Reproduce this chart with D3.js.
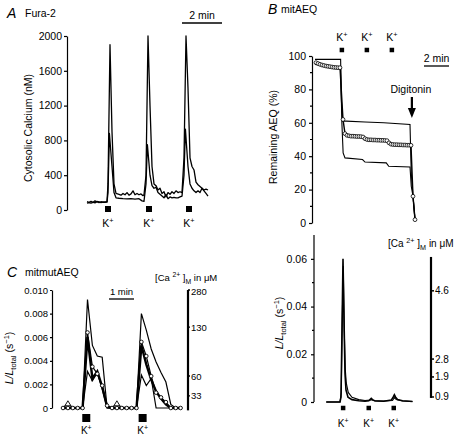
<!DOCTYPE html>
<html><head><meta charset="utf-8">
<script src="https://cdn.jsdelivr.net/npm/d3@7"></script>
<style>
body{margin:0;background:#fff}
text{font-family:"Liberation Sans",Arial,Helvetica,sans-serif;fill:#000}
.axis path,.axis line{stroke:#000;stroke-width:1.2}
</style>
</head><body>
<svg id="c" width="459" height="437"></svg>
<script>
// ---------- Panel A: Fura-2 (time in min, [Ca2+] in nM) ----------
const aTall = [[0,95],[0.1,88],[0.2,100],[0.3,85],[0.4,105],[0.5,90],[0.6,95],[0.7,85],[0.8,92],[0.9,88],[1.0,95],[1.05,300],[1.15,1900],[1.25,900],[1.35,300],[1.45,190],[1.6,180],[1.7,170],[1.8,190],[1.9,175],[2.0,200],[2.1,170],[2.2,185],[2.3,220],[2.4,175],[2.5,190],[2.6,175],[2.7,185],[2.8,165],[2.85,175],[2.95,400],[3.05,2000],[3.15,1200],[3.25,500],[3.35,300],[3.45,280],[3.55,230],[3.65,250],[3.75,190],[3.85,210],[3.95,150],[4.05,200],[4.15,180],[4.25,210],[4.35,190],[4.45,220],[4.55,200],[4.65,210],[4.75,200],[4.85,600],[4.95,2000],[5.05,1400],[5.15,600],[5.25,500],[5.35,460],[5.45,320],[5.55,290],[5.65,270],[5.75,250],[5.85,220],[5.95,190],[6.05,160]];
const aShort = [[0,80],[0.1,85],[0.2,78],[0.3,90],[0.4,82],[0.5,100],[0.6,85],[0.7,95],[0.8,88],[0.9,92],[1.0,90],[1.05,200],[1.12,880],[1.25,500],[1.35,200],[1.45,140],[1.6,135],[1.8,130],[2.0,128],[2.2,130],[2.4,125],[2.6,130],[2.75,105],[2.85,100],[2.95,300],[3.02,750],[3.15,400],[3.25,280],[3.35,250],[3.45,260],[3.55,200],[3.65,180],[3.75,160],[3.85,140],[3.95,180],[4.05,130],[4.15,150],[4.25,140],[4.35,145],[4.45,140],[4.55,140],[4.65,150],[4.75,160],[4.85,400],[4.92,930],[5.05,500],[5.15,300],[5.25,250],[5.35,220],[5.45,200],[5.55,220],[5.65,200],[5.75,250],[5.85,230],[5.95,240],[6.05,230]];
const aTicks = [0,400,800,1200,1600,2000];
const aStim = [1.05,3.1,5.1];

// ---------- Panel B top: mitAEQ remaining (%) ----------
const bUpper = [[0,98],[2.05,98],[2.1,75],[2.2,61],[2.5,61],[4.0,60.5],[5.5,60],[7.6,59],[7.7,30],[7.84,16],[8.0,2]];
const bLower = [[0,95],[2.05,93],[2.15,60],[2.25,42],[2.4,39],[3.8,38],[4.0,36.5],[5.7,36],[5.9,34],[7.6,33.5],[7.7,22],[7.84,16],[8.0,2]];
const bCirc = [[0.08,96],[0.24,95.5],[0.4,95],[0.56,94.6],[0.72,94.3],[0.88,94],[1.04,93.8],[1.2,93.6],[1.36,93.4],[1.52,93.2],[1.68,93.1],[1.84,93],[2.0,93],[2.24,62],[2.4,53.5],[2.56,52.5],[2.72,52.2],[2.88,52],[3.04,52],[3.2,51.9],[3.36,51.8],[3.52,51.8],[3.68,51.7],[3.84,51.5],[4.0,50.5],[4.16,50],[4.32,49.8],[4.48,49.8],[4.64,49.7],[4.8,49.7],[4.96,49.6],[5.12,49.6],[5.28,49.5],[5.44,49.5],[5.6,49.4],[5.76,49.3],[5.92,48],[6.08,47.2],[6.24,47],[6.4,46.9],[6.56,46.9],[6.72,46.8],[6.88,46.8],[7.04,46.7],[7.2,46.7],[7.36,46.6],[7.52,46.6],[7.68,46.5],[7.84,16],[8.0,2]];
const bTicks = [0,20,40,60,80,100];
const bMinor = [10,30,50,70,90];
const bStimTop = [2.15,4.15,6.15];
const digitoninT = 7.75;

// ---------- Panel B bottom: mitAEQ L/Ltotal ----------
const bbTrace1 = [[0.9,0],[2.0,0],[2.08,0.002],[2.16,0.03],[2.24,0.06],[2.32,0.035],[2.4,0.012],[2.48,0.005],[2.64,0.002],[2.96,0.001],[3.5,0.0005],[4.0,0.0003],[4.3,0.0005],[4.4,0.001],[4.5,0.0015],[4.6,0.001],[4.8,0.0004],[5.5,0.0003],[6.1,0.0008],[6.25,0.002],[6.35,0.003],[6.45,0.002],[6.6,0.001],[7.0,0.0005],[7.8,0.0002]];
const bbTrace2 = [[0.9,0],[2.0,0],[2.1,0.004],[2.18,0.035],[2.26,0.057],[2.34,0.03],[2.42,0.014],[2.5,0.008],[2.66,0.004],[2.96,0.002],[3.5,0.001],[4.0,0.0006],[4.4,0.0008],[4.5,0.001],[4.7,0.0006],[5.5,0.0004],[6.2,0.0006],[6.35,0.0018],[6.5,0.001],[7.0,0.0004],[7.8,0.0002]];
const bbTicks = [0,0.02,0.04,0.06];
const bbMinor = [0.01,0.03,0.05];
const bbCaLabels = ["0.9","1.9","2.8","4.6"];
const bbCaPos = [0.0021,0.0105,0.018,0.0466];
const bbCaRange = [0.0017,0.0608];
const bStimBot = [2.25,4.3,6.3];

// ---------- Panel C: mitmutAEQ (samples every 0.2 min) ----------
const cTime = [0,0.2,0.4,0.6,0.8,1.0,1.2,1.4,1.6,1.8,2.0,2.2,2.4,2.6,2.8,3.0,3.2,3.4,3.6,3.8,4.0,4.2,4.4,4.6,4.8];
const cTall  = [0,0,0,0,0,0.0092,0.0053,0.0044,0.0043,0,0,0,0,0,0,0,0.0080,0.0066,0.0050,0.0039,0.0030,0.0022,0.0003,0,0];
const cCirc  = [0,0,0,0,0,0.0064,0.0035,0.0029,0.0019,0.0002,0,0,0,0,0,0,0.0056,0.0044,0.0027,0.0013,0.0009,0.0005,0,0,0];
const cThick = [0,0,0,0,0,0.0060,0.0025,0.0031,0.0018,0.0001,0,0,0,0,0,0,0.0053,0.0037,0.0024,0.0014,0.0008,0.0003,0,0,0];
const cTri   = [0,0.0004,0,0,0,0.0031,0.0023,0.0030,0.0016,0,0,0.0004,0,0,0,0,0.0028,0.0019,0.0025,0,0,0,0,0,0];
const cTriIdx = [1,11];
const cTicks = [0,0.002,0.004,0.006,0.008,0.010];
const cCaLabels = ["33","60","130","280"];
const cCaPos = [0.00102,0.00271,0.00686,0.010];
const cCaRange = [-0.0002,0.010];
const cStim = [0.95,3.25];

const svg = d3.select("#c");
const F = '"Liberation Sans",Arial,Helvetica,sans-serif';

function stimMarks(g, xs, times, y, size, labelY, fs){
  g.selectAll(null).data(times).enter().append("rect")
    .attr("x", d=>xs(d)-size/2).attr("y", y-size/2).attr("width", size).attr("height", size).attr("fill","#000");
  times.forEach(t=>{
    const tx = g.append("text").attr("x", xs(t)).attr("y", labelY).attr("text-anchor","middle").style("font-size",fs+"px");
    tx.append("tspan").text("K");
    tx.append("tspan").attr("dy",-4).style("font-size",(fs*0.7)+"px").text("+");
  });
}
function lLabel(g, x, y, fs){
  const t = g.append("text").attr("transform",`translate(${x},${y}) rotate(-90)`).attr("text-anchor","middle").style("font-size",fs+"px");
  t.append("tspan").style("font-style","italic").text("L/L");
  t.append("tspan").attr("dy",3).style("font-size",(fs*0.72)+"px").text("total");
  t.append("tspan").attr("dy",-3).text(" (s");
  t.append("tspan").attr("dy",-4).style("font-size",(fs*0.72)+"px").text("−1");
  t.append("tspan").attr("dy",4).text(")");
}
function caLabel(g, x, y, fs){
  const t = g.append("text").attr("x",x).attr("y",y).style("font-size",fs+"px");
  t.append("tspan").text("[Ca ");
  t.append("tspan").attr("dy",-4).style("font-size",(fs*0.72)+"px").text("2+");
  t.append("tspan").attr("dy",4).text(" ]");
  t.append("tspan").attr("dy",2.5).style("font-size",(fs*0.72)+"px").text("M");
  t.append("tspan").attr("dy",-2.5).text(" in μM");
}
function scaleBar(g, x1, x2, y, label, fs){
  g.append("line").attr("x1",x1).attr("x2",x2).attr("y1",y).attr("y2",y).attr("stroke","#000").attr("stroke-width",1.3);
  g.append("text").attr("x",(x1+x2)/2).attr("y",y-4).attr("text-anchor","middle").style("font-size",fs+"px").text(label);
}
function panelTitle(x, y, letter, name){
  svg.append("text").attr("x",x).attr("y",y).style("font-size","14px").style("font-style","italic").text(letter);
  svg.append("text").attr("x",x+(letter==="B"?13:18)).attr("y",y-1).style("font-size","10.5px").text(name);
}
function styleAxis(g){ g.attr("class","axis").selectAll("text").style("font-family",F); }

// ===== Panel A =====
{
  const g = svg.append("g");
  const x = d3.scaleLinear().domain([0,6]).range([87,207]);
  const y = d3.scaleLinear().domain([0,2000]).range([210,36]);
  const ax = g.append("g").attr("transform","translate(67,0)")
    .call(d3.axisLeft(y).tickValues(aTicks).tickSize(3).tickSizeOuter(0).tickPadding(2).tickFormat(d3.format("d")));
  styleAxis(ax); ax.selectAll("text").style("font-size","10.5px");
  const line = d3.line().x(d=>x(d[0])).y(d=>y(d[1]));
  [aShort, aTall].forEach(s=> g.append("path").attr("d",line(s)).attr("fill","none").attr("stroke","#000").attr("stroke-width",1.3).attr("stroke-linejoin","round"));
  stimMarks(g, x, aStim, 209, 6, 227, 10.5);
  g.append("text").attr("transform","translate(32,128) rotate(-90)").attr("text-anchor","middle").style("font-size","10.5px").text("Cytosolic Calcium (nM)");
  scaleBar(g, 182, 222, 23, "2 min", 10.5);
  panelTitle(7, 18, "A", "Fura-2");
}

// ===== Panel B top =====
{
  const g = svg.append("g");
  const x = d3.scaleLinear().domain([0,8]).range([315,415]);
  const y = d3.scaleLinear().domain([0,100]).range([223,56]);
  const ax = g.append("g").attr("transform","translate(312,0)")
    .call(d3.axisLeft(y).tickValues(bTicks).tickSize(3).tickSizeOuter(0).tickPadding(3));
  styleAxis(ax); ax.selectAll("text").style("font-size","10.5px");
  g.append("g").attr("transform","translate(312,0)").selectAll("line").data(bMinor).enter().append("line")
    .attr("x1",-2).attr("x2",0).attr("y1",d=>y(d)).attr("y2",d=>y(d)).attr("stroke","#000").attr("stroke-width",1.2);
  const line = d3.line().x(d=>x(d[0])).y(d=>y(d[1]));
  [bUpper,bLower].forEach(s=> g.append("path").attr("d",line(s)).attr("fill","none").attr("stroke","#000").attr("stroke-width",1.1));
  g.append("path").attr("d",line(bCirc)).attr("fill","none").attr("stroke","#000").attr("stroke-width",1.4);
  g.selectAll(null).data(bCirc).enter().append("circle").attr("cx",d=>x(d[0])).attr("cy",d=>y(d[1])).attr("r",1.9)
    .attr("fill","#fff").attr("stroke","#000").attr("stroke-width",0.8);
  stimMarks(g, x, bStimTop, 50, 4.5, 41, 10.5);
  g.append("text").attr("transform","translate(277,137) rotate(-90)").attr("text-anchor","middle").style("font-size","10.5px").text("Remaining AEQ (%)");
  scaleBar(g, 424, 449, 66, "2 min", 10.5);
  g.append("text").attr("x",x(digitoninT)-1).attr("y",93).attr("text-anchor","middle").style("font-size","10.5px").text("Digitonin");
  const ax0 = x(digitoninT);
  g.append("line").attr("x1",ax0).attr("x2",ax0).attr("y1",97).attr("y2",110).attr("stroke","#000").attr("stroke-width",2.2);
  g.append("path").attr("d",`M${ax0-4},108 L${ax0+4},108 L${ax0},118 Z`).attr("fill","#000");
  panelTitle(268, 14, "B", "mitAEQ");
}

// ===== Panel B bottom =====
{
  const g = svg.append("g");
  const x = d3.scaleLinear().domain([0,8]).range([315,415]);
  const y = d3.scaleLinear().domain([0,0.07]).range([402,235]);
  const ax = g.append("g").attr("transform","translate(314,0)")
    .call(d3.axisLeft(y).tickValues(bbTicks).tickSize(3).tickSizeOuter(0).tickPadding(4).tickFormat(d=>d===0?"0":d3.format(".2f")(d)));
  styleAxis(ax); ax.selectAll("text").style("font-size","10.5px");
  ax.select(".domain").attr("d","M0,235V402");
  g.append("g").attr("transform","translate(314,0)").selectAll("line").data(bbMinor).enter().append("line")
    .attr("x1",-2).attr("x2",0).attr("y1",d=>y(d)).attr("y2",d=>y(d)).attr("stroke","#000").attr("stroke-width",1.2);
  const line = d3.line().x(d=>x(d[0])).y(d=>y(d[1]));
  g.append("path").attr("d",line(bbTrace2)).attr("fill","none").attr("stroke","#000").attr("stroke-width",1.1);
  g.append("path").attr("d",line(bbTrace1)).attr("fill","none").attr("stroke","#000").attr("stroke-width",1.6);
  // right Ca axis
  g.append("line").attr("x1",431).attr("x2",431).attr("y1",y(bbCaRange[1])).attr("y2",y(bbCaRange[0])).attr("stroke","#000").attr("stroke-width",2.2);
  bbCaPos.forEach((p,i)=>{
    g.append("line").attr("x1",431).attr("x2",434).attr("y1",y(p)).attr("y2",y(p)).attr("stroke","#000").attr("stroke-width",1.5);
    g.append("text").attr("x",435).attr("y",y(p)+3.5).style("font-size","10px").text(bbCaLabels[i]);
  });
  caLabel(g, 388, 247, 10);
  stimMarks(g, x, bStimBot, 408, 4.5, 427, 10);
  lLabel(g, 283, 323, 10.5);
}

// ===== Panel C =====
{
  const g = svg.append("g");
  const x = d3.scaleLinear().domain([0,4.8]).range([63,180.6]);
  const y = d3.scaleLinear().domain([0,0.010]).range([408,290]);
  const ax = g.append("g").attr("transform","translate(52,0)")
    .call(d3.axisLeft(y).tickValues(cTicks).tickSize(2).tickSizeOuter(0).tickPadding(2).tickFormat(d=>d===0?"0":d3.format(".3f")(d)));
  styleAxis(ax); ax.selectAll("text").style("font-size","9.5px");
  const pts = arr => arr.map((v,i)=>[cTime[i],v]);
  const line = d3.line().x(d=>x(d[0])).y(d=>y(d[1]));
  g.append("path").attr("d",line(pts(cTall))).attr("fill","none").attr("stroke","#000").attr("stroke-width",1.2);
  g.append("path").attr("d",line(pts(cTri))).attr("fill","none").attr("stroke","#000").attr("stroke-width",1.2);
  g.append("path").attr("d",line(pts(cThick))).attr("fill","none").attr("stroke","#000").attr("stroke-width",2.4);
  g.append("path").attr("d",line(pts(cCirc))).attr("fill","none").attr("stroke","#000").attr("stroke-width",1.2);
  g.selectAll(null).data(pts(cCirc)).enter().append("circle").attr("cx",d=>x(d[0])).attr("cy",d=>y(d[1])).attr("r",1.8)
    .attr("fill","#fff").attr("stroke","#000").attr("stroke-width",0.9);
  g.selectAll(null).data(cTriIdx).enter().append("path")
    .attr("d",i=>{const cx=x(cTime[i]), cy=y(cTri[i]); return `M${cx-3},${cy+2.5} L${cx+3},${cy+2.5} L${cx},${cy-2.5} Z`;})
    .attr("fill","#fff").attr("stroke","#000").attr("stroke-width",0.9);
  // right Ca axis
  g.append("line").attr("x1",188).attr("x2",188).attr("y1",y(cCaRange[1])).attr("y2",y(cCaRange[0])).attr("stroke","#000").attr("stroke-width",2.2);
  cCaPos.forEach((p,i)=>{
    g.append("line").attr("x1",188).attr("x2",190).attr("y1",y(p)).attr("y2",y(p)).attr("stroke","#000").attr("stroke-width",1.3);
    g.append("text").attr("x",191).attr("y",y(p)+(i===3?4.5:3.5)).style("font-size","9.5px").text(cCaLabels[i]);
  });
  caLabel(g, 155, 281, 9.5);
  scaleBar(g, 109, 134, 299, "1 min", 9.5);
  stimMarks(g, x, cStim, 418, 8, 434, 10);
  lLabel(g, 13, 358, 10.5);
  panelTitle(7, 277, "C", "mitmutAEQ");
}
</script>
</body></html>
